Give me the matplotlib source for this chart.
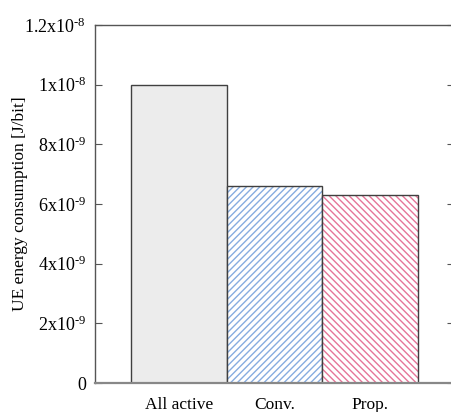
import matplotlib
matplotlib.use("Agg")
import matplotlib.pyplot as plt

categories = ["All active", "Conv.", "Prop."]
values = [1.0e-8, 6.6e-9, 6.3e-9]
ytick_vals = [0, 2e-9, 4e-9, 6e-9, 8e-9, 1e-8, 1.2e-8]
ytick_labels = ["0", "2x10$^{\\text{-9}}$", "4x10$^{\\text{-9}}$", "6x10$^{\\text{-9}}$",
                "8x10$^{\\text{-9}}$", "1x10$^{\\text{-8}}$", "1.2x10$^{\\text{-8}}$"]

plt.rcParams['font.family'] = ['Liberation Serif', 'DejaVu Serif']
plt.rcParams['mathtext.fontset'] = 'custom'
plt.rcParams['mathtext.rm'] = 'Liberation Serif'
plt.rcParams['mathtext.default'] = 'regular'
plt.rcParams['hatch.linewidth'] = 1.0

fig = plt.figure(figsize=(4.52, 4.12), dpi=100)
ax = fig.add_axes([95.5/452, 29/412, (454-95.5)/452, 358/412])

fills = ["#ececec", "white", "white"]
hatches = [None, "/////", "\\\\\\\\\\"]
hcolors = ["#404040", "#86ace0", "#e67598"]
x = list(range(len(categories)))
for i in x:
    ax.bar(x[i], values[i], width=1.0, color=fills[i], edgecolor=hcolors[i],
           hatch=hatches[i], linewidth=0)
    ax.bar(x[i], values[i], width=1.0, color="none", edgecolor="#404040", linewidth=1.0)

ax.set_xlim(-0.874, 2.88)
ax.set_ylim(0, 1.2e-8)
ax.set_yticks(ytick_vals)
ax.set_yticklabels(ytick_labels)
ax.set_xticks(x)
ax.set_xticklabels(categories)
ax.tick_params(axis='y', direction='in', length=5, width=0.8, pad=7, labelsize=13,
               right=True, colors="#555555", labelcolor="black")
ax.tick_params(axis='x', length=0, pad=10, labelsize=12.5)
ax.set_ylabel("UE energy consumption [J/bit]", fontsize=12.5, labelpad=-3)
for s in ['left', 'top', 'right']:
    ax.spines[s].set_color("#555555")
    ax.spines[s].set_linewidth(1.0)
ax.spines['bottom'].set_color("#888888")
ax.spines['bottom'].set_linewidth(1.6)

fig.savefig("out.png", dpi=100)
